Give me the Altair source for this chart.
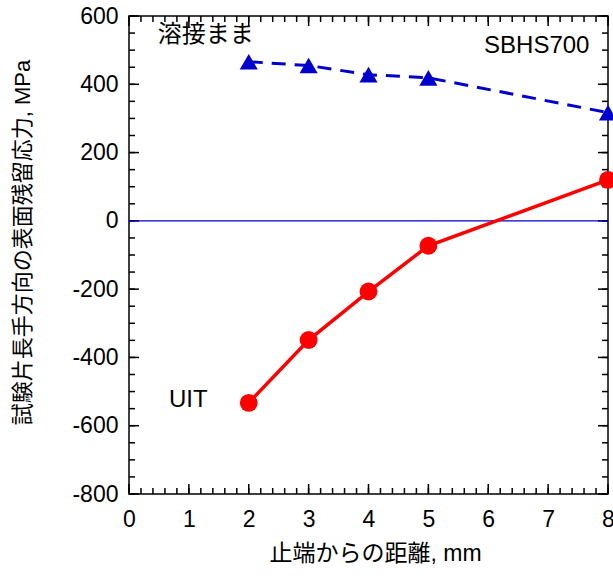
import altair as alt
import pandas as pd
import numpy as np

# ---- data ----
dist = [2, 3, 4, 5, 8]
as_welded = [466, 455, 428, 419, 317]
uit = [-533, -349, -207, -73, 120]

x_title = "止端からの距離, mm"
y_title = "試験片長手方向の表面残留応力, MPa"
x_ticks = [0, 1, 2, 3, 4, 5, 6, 7, 8]
y_ticks = [-800, -600, -400, -200, 0, 200, 400, 600]
x_minor = [round(v, 1) for v in np.arange(0, 8.01, 0.2)]
y_minor = list(range(-800, 601, 50))

labels = ["溶接まま", "SBHS700", "UIT"]
label_x = [1.28, 6.81, 0.99]
label_y = [545, 513, -524]

W, H = 479, 478
LAT = "Liberation Sans, Noto Sans CJK JP"

df_aw = pd.DataFrame({"x": dist, "y": as_welded})
df_uit = pd.DataFrame({"x": dist, "y": uit})
df_lab = pd.DataFrame({"x": label_x, "y": label_y, "t": labels})
df_xmaj = pd.DataFrame({"x": x_ticks})
df_xmin = pd.DataFrame({"x": x_minor})
df_ymaj = pd.DataFrame({"y": y_ticks})
df_ymin = pd.DataFrame({"y": y_minor})
df_zero = pd.DataFrame({"y": [0]})

xs = alt.Scale(domain=[0, 8], nice=False, zero=False)
ys = alt.Scale(domain=[-800, 600], nice=False, zero=False)

x_axis = alt.Axis(values=x_ticks, ticks=False, tickSize=0, domain=False, grid=False,
                  labelFont=LAT, labelFontSize=23, labelPadding=14, labelColor="black",
                  labelExpr="'' + datum.value", labelFlush=False, labelOverlap=False,
                  title=x_title, titleFont=LAT, titleFontSize=23, titleFontWeight="normal",
                  titleColor="black", titleX=246, titleY=59, titleBaseline="middle",
                  titleAlign="center")
y_axis = alt.Axis(values=y_ticks, ticks=False, tickSize=0, domain=False, grid=False,
                  labelFont=LAT, labelFontSize=23, labelPadding=11, labelColor="black",
                  labelExpr="'' + datum.value", labelFlush=False, labelOverlap=False,
                  title=y_title, titleFont=LAT, titleFontSize=22, titleFontWeight="normal",
                  titleColor="black", titleX=-107, titleY=226, titleAngle=270,
                  titleBaseline="middle", titleAlign="center")

X = alt.X("x:Q", scale=xs, axis=x_axis)
Y = alt.Y("y:Q", scale=ys, axis=y_axis)

zero = alt.Chart(df_zero).mark_rule(color="#0000cc", strokeWidth=1.2).encode(y=Y)

aw_line = alt.Chart(df_aw).mark_line(color="#0000cc", strokeWidth=3, strokeDash=[14, 9]).encode(x=X, y=Y)
aw_pts = alt.Chart(df_aw).mark_point(shape="triangle-up", filled=True, opacity=1,
                                     color="#0000cc", size=330).encode(x=X, y=Y)
uit_line = alt.Chart(df_uit).mark_line(color="#ff0000", strokeWidth=3.5).encode(x=X, y=Y)
uit_pts = alt.Chart(df_uit).mark_circle(color="#ff0000", opacity=1, size=320).encode(x=X, y=Y)

txt = alt.Chart(df_lab).mark_text(font=LAT, fontSize=24, color="black",
                                  align="center", baseline="middle").encode(x=X, y=Y, text="t:N")


def vt(df, yv, size):
    return alt.Chart(df).mark_tick(orient="vertical", color="black", thickness=1.5,
                                   size=size, opacity=1).encode(x=X, y=alt.value(yv))


def ht(df, xv, size):
    return alt.Chart(df).mark_tick(orient="horizontal", color="black", thickness=1.5,
                                   size=size, opacity=1).encode(y=Y, x=alt.value(xv))


ticks = [
    vt(df_xmaj, H - 5, 10), vt(df_xmaj, 5, 10),
    vt(df_xmin, H - 3, 6), vt(df_xmin, 3, 6),
    ht(df_ymaj, 5, 10), ht(df_ymaj, W - 5, 10),
    ht(df_ymin, 3, 6), ht(df_ymin, W - 3, 6),
]

chart = alt.layer(
    *ticks, zero, aw_line, uit_line, aw_pts, uit_pts, txt
).properties(
    width=W, height=H,
    autosize=alt.AutoSizeParams(type="none"),
    padding={"left": 129, "top": 16, "right": 5, "bottom": 82},
    background="white",
).configure_view(stroke="black", strokeWidth=1.5)

chart.save("out.html", embed_options={"renderer": "svg", "actions": False})
